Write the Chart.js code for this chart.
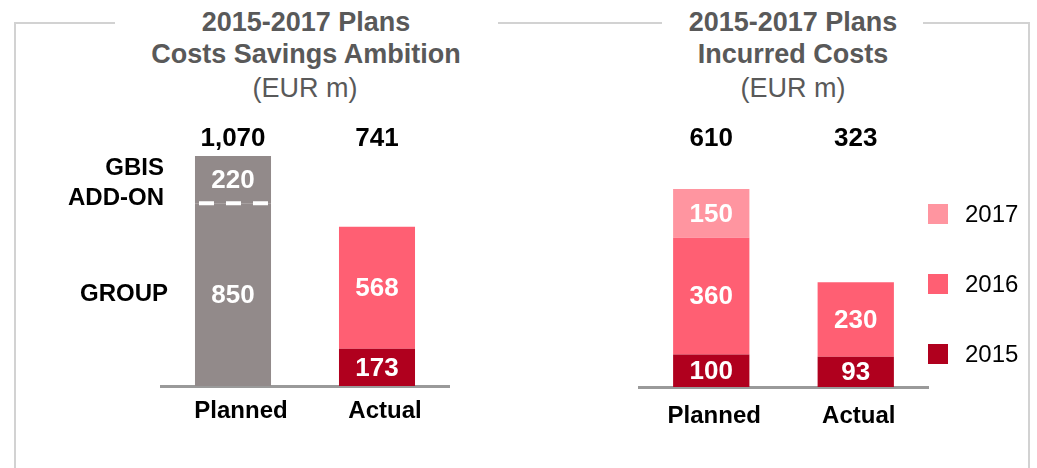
<!DOCTYPE html>
<html>
<head>
<meta charset="utf-8">
<script src="https://cdn.jsdelivr.net/npm/chart.js@4.4.1/dist/chart.umd.min.js"></script>
<style>
  body { margin: 0; background: #fff; font-family: 'Liberation Sans', Arial, sans-serif; }
  #wrap { position: relative; width: 1037px; height: 468px; overflow: hidden; }
  .line { position: absolute; background: #d2d2d2; }
  .title { position: absolute; width: 400px; text-align: center; color: #595959;
           font-size: 27px; line-height: 32px; white-space: nowrap; }
  .title.b { font-weight: bold; }
  canvas { position: absolute; top: 0; }
</style>
</head>
<body>
<div id="wrap">
  <div class="line" style="left:14px;top:22px;width:101px;height:2px"></div>
  <div class="line" style="left:498px;top:22px;width:164px;height:2px"></div>
  <div class="line" style="left:923px;top:22px;width:107px;height:2px"></div>
  <div class="line" style="left:14px;top:22px;width:2px;height:446px"></div>
  <div class="line" style="left:1028px;top:22px;width:2px;height:446px"></div>

  <div class="title b" style="left:106px;top:6px">2015-2017 Plans<br>Costs Savings Ambition</div>
  <div class="title" style="left:105px;top:72px">(EUR m)</div>
  <div class="title b" style="left:593px;top:6px">2015-2017 Plans<br>Incurred Costs</div>
  <div class="title" style="left:593px;top:72px">(EUR m)</div>

  <canvas id="chartLeft" width="520" height="468" style="left:0;width:520px;height:468px"></canvas>
  <canvas id="chartRight" width="517" height="468" style="left:520px;width:517px;height:468px"></canvas>
</div>

<script>
const categories = ['Planned', 'Actual'];

// left panel: cost savings ambition
const savingsBase = [850, 173];   // GROUP / 2015
const savingsTop = [220, 568];    // GBIS add-on / 2016
const sideLabelsTop = ['GBIS', 'ADD-ON'];
const sideLabelBase = 'GROUP';

// right panel: incurred costs
const years = ['2015', '2016', '2017'];
const costs2015 = [100, 93];
const costs2016 = [360, 230];
const costs2017 = [150, null];

const GREY = '#928a8a';
const DARK = '#b0001e';
const MID = '#ff5f73';
const LIGHT = '#ff95a0';
const FONT = "'Liberation Sans', Arial, sans-serif";

Chart.defaults.font.family = FONT;
Chart.defaults.animation = false;

const barLabels = {
  id: 'barLabels',
  afterDatasetsDraw(chart, args, opts) {
    const ctx = chart.ctx;
    ctx.save();
    ctx.textAlign = 'center';
    ctx.textBaseline = 'middle';

    // values inside the segments
    ctx.font = 'bold 26px ' + FONT;
    ctx.fillStyle = '#fff';
    chart.data.datasets.forEach((ds, i) => {
      chart.getDatasetMeta(i).data.forEach((bar, j) => {
        const v = ds.data[j];
        if (v == null) return;
        ctx.fillText(v, bar.x, (bar.y + bar.base) / 2 + 1);
      });
    });

    // totals above
    ctx.font = 'bold 26px ' + FONT;
    ctx.fillStyle = '#000';
    const meta0 = chart.getDatasetMeta(0);
    chart.data.labels.forEach((lab, j) => {
      let sum = 0;
      chart.data.datasets.forEach(ds => { sum += ds.data[j] || 0; });
      ctx.fillText(sum.toLocaleString('en-US'), meta0.data[j].x, opts.totalY);
    });
    ctx.restore();
  }
};

const leftExtras = {
  id: 'leftExtras',
  afterDatasetsDraw(chart) {
    const ctx = chart.ctx;
    const baseBar = chart.getDatasetMeta(0).data[0];
    const topBar = chart.getDatasetMeta(1).data[0];
    ctx.save();
    // dashed split line on the planned bar
    ctx.strokeStyle = '#fff';
    ctx.lineWidth = 4;
    ctx.setLineDash([15, 12]);
    ctx.beginPath();
    ctx.moveTo(baseBar.x - baseBar.width / 2 + 4, baseBar.y);
    ctx.lineTo(baseBar.x + baseBar.width / 2, baseBar.y);
    ctx.stroke();
    ctx.setLineDash([]);

    ctx.font = 'bold 24px ' + FONT;
    ctx.fillStyle = '#000';
    ctx.textAlign = 'right';
    ctx.textBaseline = 'middle';
    const xr = chart.chartArea.left + 3;
    const ymid = (topBar.y + topBar.base) / 2 + 4;
    ctx.fillText(sideLabelsTop[0], xr, ymid - 15);
    ctx.fillText(sideLabelsTop[1], xr, ymid + 15);
    ctx.fillText(sideLabelBase, xr + 4, (baseBar.y + baseBar.base) / 2);
    ctx.restore();
  }
};

const sideLegend = {
  id: 'sideLegend',
  afterDraw(chart) {
    const ctx = chart.ctx;
    const area = chart.chartArea;
    ctx.save();
    ctx.font = '24px ' + FONT;
    ctx.textAlign = 'left';
    ctx.textBaseline = 'middle';
    const n = chart.data.datasets.length;
    for (let k = 0; k < n; k++) {
      const ds = chart.data.datasets[n - 1 - k];
      const y = area.top + 25 + k * 70;
      ctx.fillStyle = ds.backgroundColor;
      ctx.fillRect(area.right, y - 10, 20, 20);
      ctx.fillStyle = '#000';
      ctx.fillText(ds.label, area.right + 37, y + 1);
    }
    ctx.restore();
  }
};

function xAxis(pad, offset) {
  return {
    stacked: true,
    grid: { display: false, drawTicks: false },
    border: { display: true, color: '#9a9a9a', width: 3 },
    ticks: { color: '#000', font: { size: 24, weight: 'bold' }, padding: pad, labelOffset: offset },
    afterFit(scale) { scale.height = 50; }
  };
}

new Chart(document.getElementById('chartLeft'), {
  type: 'bar',
  data: {
    labels: categories,
    datasets: [
      { label: 'GROUP', data: savingsBase, backgroundColor: [GREY, DARK] },
      { label: 'GBIS ADD-ON', data: savingsTop, backgroundColor: [GREY, MID] }
    ]
  },
  options: {
    responsive: false,
    categoryPercentage: 1,
    barPercentage: 0.528,
    layout: { padding: { left: 161, right: 71, top: 156, bottom: 32 } },
    plugins: { legend: { display: false }, tooltip: { enabled: false }, barLabels: { totalY: 139 } },
    scales: {
      x: xAxis(11, 8),
      y: { stacked: true, display: false, min: 0, max: 1070 }
    }
  },
  plugins: [barLabels, leftExtras]
});

new Chart(document.getElementById('chartRight'), {
  type: 'bar',
  data: {
    labels: categories,
    datasets: [
      { label: years[0], data: costs2015, backgroundColor: DARK },
      { label: years[1], data: costs2016, backgroundColor: MID },
      { label: years[2], data: costs2017, backgroundColor: LIGHT }
    ]
  },
  options: {
    responsive: false,
    categoryPercentage: 1,
    barPercentage: 0.528,
    layout: { padding: { left: 119, right: 109, top: 189, bottom: 31 } },
    plugins: { legend: { display: false }, tooltip: { enabled: false }, barLabels: { totalY: 139 } },
    scales: {
      x: xAxis(15, 3),
      y: { stacked: true, display: false, min: 0, max: 610 }
    }
  },
  plugins: [barLabels, sideLegend]
});
</script>
</body>
</html>
